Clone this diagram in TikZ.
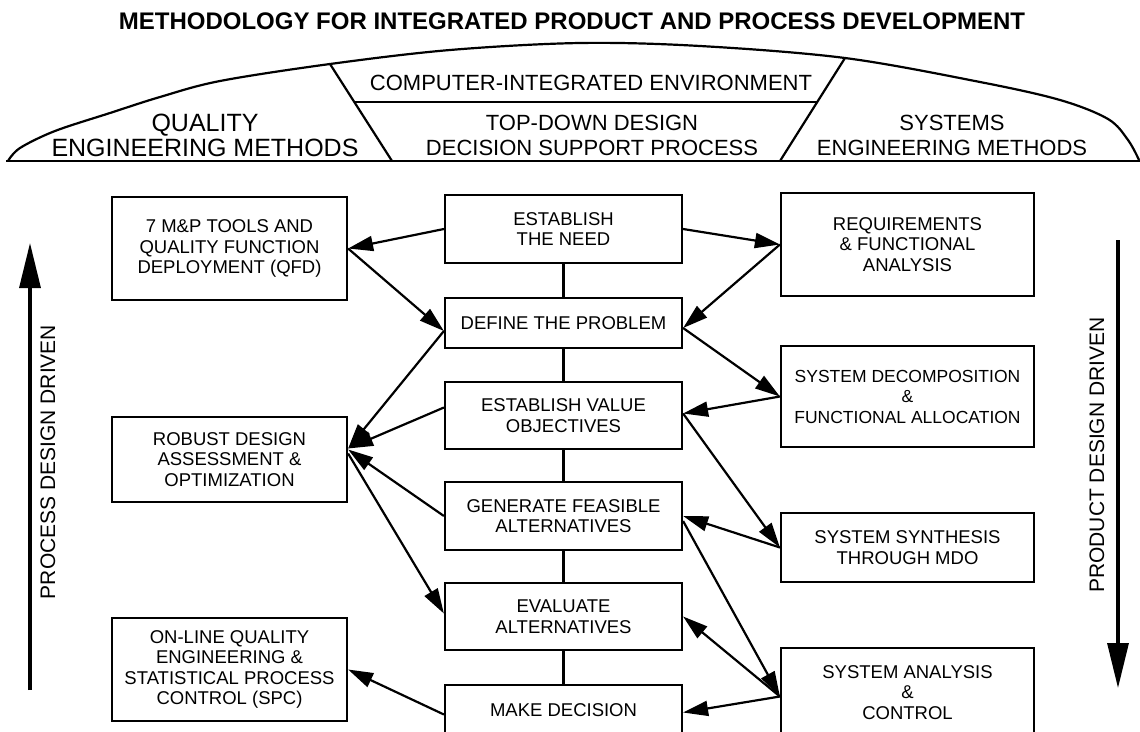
\documentclass[tikz,border=0pt]{standalone}
\usepackage{fontspec}
\setmainfont{Liberation Sans}
\usetikzlibrary{arrows.meta}
\begin{document}
\begin{tikzpicture}[x=1pt,y=-1pt,
  box/.style={draw, line width=2.2pt, align=center, inner sep=0pt, font=\fontsize{18.5}{20.5}\selectfont},
  cbox/.style={box, minimum width=237pt},
  lbox/.style={box, minimum width=235pt},
  rbox/.style={box, minimum width=253pt},
  con/.style={line width=2.2pt},
  arr/.style={line width=2.2pt, -{Triangle[length=25pt,width=15pt]}},
  bigarr/.style={line width=3.2pt, -{Triangle[length=45pt,width=21pt]}},
  ban/.style={font=\fontsize{22}{25}\selectfont, align=center, inner sep=0pt},
  side/.style={font=\fontsize{21}{24}\selectfont, rotate=90, inner sep=0pt}
]
\useasboundingbox (0,0) rectangle (1140,731);
\clip (0,0) rectangle (1140,731);

% title
\node[font=\bfseries\fontsize{24}{28}\selectfont, inner sep=0pt] (title) at (572,21) {METHODOLOGY FOR INTEGRATED PRODUCT AND PROCESS DEVELOPMENT};

% banner
\draw[line width=2.2pt] plot[smooth, tension=0.55] coordinates {(8,161) (20,148) (55,131) (110,113) (160,97) (220,81) (330,64) (450,50) (580,43) (700,46) (845,58) (980,82) (1060,100) (1108,119) (1128,140) (1139,160)};
\draw[line width=2.2pt] (6,161) -- (1140,161);
\draw[line width=2.2pt] (330,64) -- (392,161);
\draw[line width=2.2pt] (845,58) -- (780,161);
\draw[line width=2.2pt] (354.5,102) -- (817,102);

\node[ban, font=\fontsize{25}{25}\selectfont] (qem) at (205,135) {QUALITY\\ENGINEERING METHODS};
\node[ban] (cie) at (591,83) {COMPUTER-INTEGRATED ENVIRONMENT};
\node[ban] (tdd) at (592,135) {TOP-DOWN DESIGN\\DECISION SUPPORT PROCESS};
\node[ban] (sem) at (952,135) {SYSTEMS\\ENGINEERING METHODS};

% central column
\node[cbox, minimum height=68pt] (need) at (563.5,229) {ESTABLISH\\THE NEED};
\node[cbox, minimum height=50pt] (define) at (563.5,323) {DEFINE THE PROBLEM};
\node[cbox, minimum height=67pt] (value) at (563.5,415.5) {ESTABLISH VALUE\\OBJECTIVES};
\node[cbox, minimum height=68pt] (gen) at (563.5,516) {GENERATE FEASIBLE\\ALTERNATIVES};
\node[cbox, minimum height=67pt] (eval) at (563.5,616.5) {EVALUATE\\ALTERNATIVES};
\node[cbox, minimum height=51pt] (dec) at (563.5,710.5) {MAKE DECISION};

% left column
\node[lbox, minimum height=103pt] (qfd) at (229.5,248.5) {7 M\&P TOOLS AND\\QUALITY FUNCTION\\DEPLOYMENT (QFD)};
\node[lbox, minimum height=85pt] (robust) at (229.5,459.5) {ROBUST DESIGN\\ASSESSMENT \&\\OPTIMIZATION};
\node[lbox, minimum height=103pt] (online) at (229.5,669.5) {ON-LINE QUALITY\\ENGINEERING \&\\STATISTICAL PROCESS\\CONTROL (SPC)};

% right column
\node[rbox, minimum height=103pt] (req) at (907.5,244.5) {REQUIREMENTS\\\& FUNCTIONAL\\ANALYSIS};
\node[rbox, minimum height=101pt, font=\fontsize{17.5}{20.5}\selectfont] (sysdec) at (907.5,396.5) {SYSTEM DECOMPOSITION\\\&\\FUNCTIONAL ALLOCATION};
\node[rbox, minimum height=69pt] (synth) at (907.5,547.5) {SYSTEM SYNTHESIS\\THROUGH MDO};
\node[rbox, minimum height=89pt] (analysis) at (907.5,692.5) {SYSTEM ANALYSIS\\\&\\CONTROL};

% central connectors
\draw[con] (need) -- (define);
\draw[con] (define) -- (value);
\draw[con] (value) -- (gen);
\draw[con] (gen) -- (eval);
\draw[con] (eval) -- (dec);

% left arrows
\draw[arr] (need.west) -- (qfd.east);
\draw[arr] (qfd.east) -- ([yshift=-8pt]define.west);
\draw[arr] ([yshift=-8pt]define.west) -- ([yshift=11pt]robust.east);
\draw[arr] ([yshift=8pt]value.west) -- ([yshift=11pt]robust.east);
\draw[arr] (gen.west) -- ([yshift=10pt]robust.east);
\draw[arr] ([yshift=6pt]robust.east) -- ([yshift=3pt]eval.west);
\draw[arr] ([yshift=-4pt]dec.west) -- (online.east);

% right arrows
\draw[arr] (need.east) -- (req.west);
\draw[arr] (req.west) -- ([yshift=-5pt]define.east);
\draw[arr] ([yshift=-5pt]define.east) -- (sysdec.west);
\draw[arr] (sysdec.west) -- ([yshift=2pt]value.east);
\draw[arr] ([yshift=2pt]value.east) -- (synth.west);
\draw[arr] (synth.west) -- (gen.east);
\draw[arr] ([yshift=-5pt]gen.east) -- ([yshift=-4pt]analysis.west);
\draw[arr] ([yshift=-4pt]analysis.west) -- (eval.east);
\draw[arr] ([yshift=-4pt]analysis.west) -- ([yshift=-2pt]dec.east);

% side labels and arrows
\node[side] (pdd) at (48,462) {PROCESS DESIGN DRIVEN};
\node[side] (prdd) at (1097,455) {PRODUCT DESIGN DRIVEN};
\coordinate (lt) at (30,690);
\coordinate (lh) at (30,243);
\coordinate (rt) at (1118,240);
\coordinate (rh) at (1118,688);
\draw[bigarr] (lt) -- (lh);
\draw[bigarr] (rt) -- (rh);
\end{tikzpicture}
\end{document}
